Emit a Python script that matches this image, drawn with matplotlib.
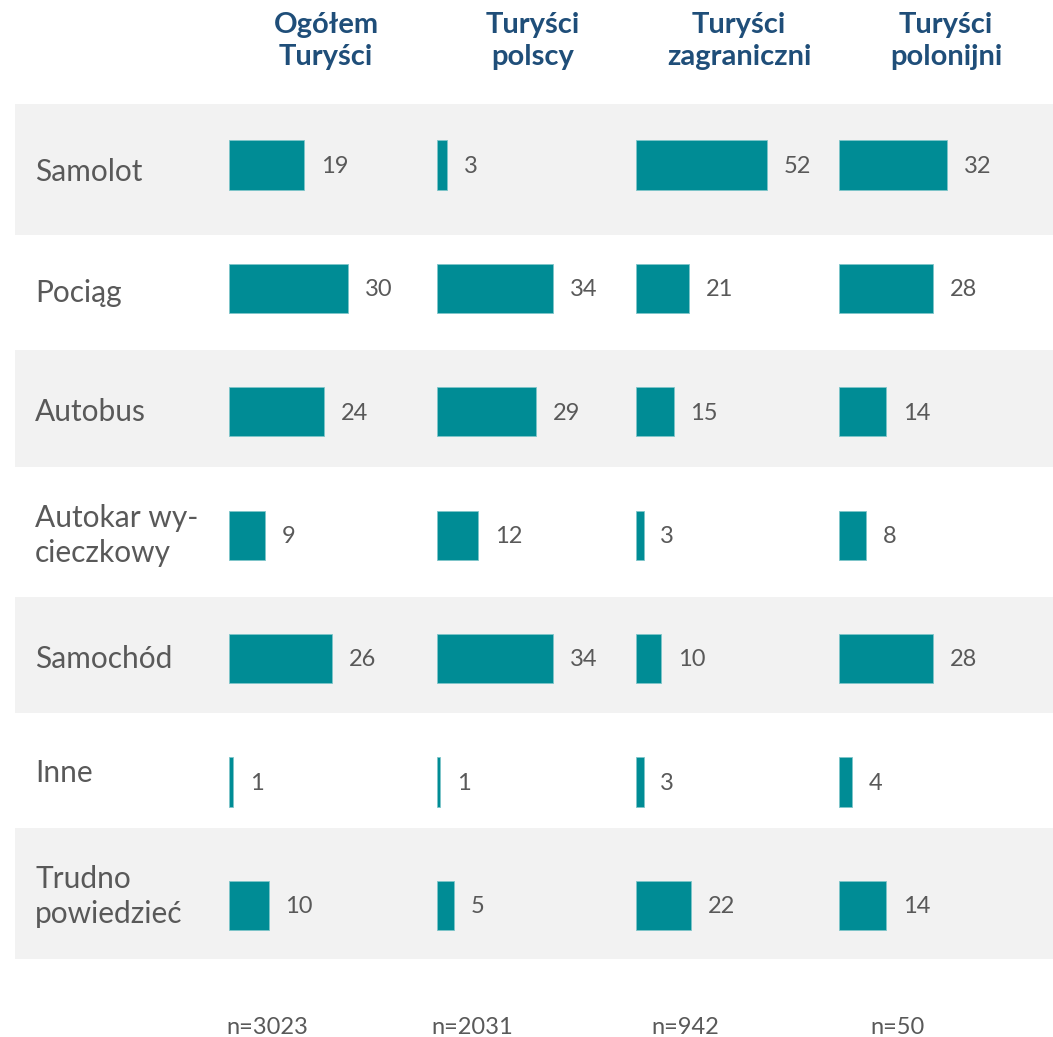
import matplotlib.pyplot as plt

# Dane
categories = ['Samolot', 'Pociąg', 'Autobus', 'Autokar wy-\ncieczkowy',
              'Samochód', 'Inne', 'Trudno\npowiedzieć']
groups = ['Ogółem\nTuryści', 'Turyści\npolscy', 'Turyści\nzagraniczni', 'Turyści\npolonijni']
sample_sizes = ['n=3023', 'n=2031', 'n=942', 'n=50']

ogolem = [19, 30, 24, 9, 26, 1, 10]
polscy = [3, 34, 29, 12, 34, 1, 5]
zagraniczni = [52, 21, 15, 3, 10, 3, 22]
polonijni = [32, 28, 14, 8, 28, 4, 14]
series = [ogolem, polscy, zagraniczni, polonijni]

plt.rcParams['font.family'] = ['Lato', 'DejaVu Sans']

W, H = 1053, 1037
fig = plt.figure(figsize=(W / 100, H / 100), dpi=100)

bar_color = '#008C95'
text_color = '#595959'
head_color = '#1F4E79'

# wiersze: srodek pierwszego 165 px, odstep 123.4 px
row0, step = 165, 123.4
n = len(categories)
top_px = row0 - step / 2
bot_px = row0 + step * (n - 0.5)
ax_bottom = 1 - bot_px / H
ax_height = (bot_px - top_px) / H


def px2row(px):
    return (px - row0) / step


# tlo z pasami (granice pasow w px)
bands = [(104, 235), (350, 467), (597, 713), (828, 959)]
bg = fig.add_axes([15 / W, ax_bottom, 1 - 15 / W, ax_height])
bg.set_ylim(n - 0.5, -0.5)
bg.set_xlim(0, 1)
for a, b in bands:
    bg.axhspan(px2row(a), px2row(b), color='#F2F2F2', lw=0)
label_dy = [7, 5, 0, 0, 0, -9, -9]
for i, cat in enumerate(categories):
    bg.text(20 / (W - 15), i + label_dy[i] / step, cat, ha='left', va='center',
            fontsize=21.5, color=text_color, linespacing=1.3)
bg.axis('off')

# kolumny: poczatek w px, skala px na jednostke
col_left = [229, 437, 636, 839]
px_per_unit = [3.96, 3.41, 2.52, 3.37]
col_width = 190
head_x = [326, 533, 739, 946]
n_x = [267, 472, 685, 897]

for k, vals in enumerate(series):
    ax = fig.add_axes([col_left[k] / W, ax_bottom, col_width / W, ax_height])
    ax.barh(range(n), vals, height=0.40, color=bar_color, edgecolor='#7FC6CA', lw=0.6)
    ax.set_ylim(n - 0.5, -0.5)
    ax.set_xlim(0, col_width / px_per_unit[k])
    for i, v in enumerate(vals):
        ax.annotate(str(v), (v, i), xytext=(12, -1), textcoords='offset points',
                    ha='left', va='center', fontsize=17, color=text_color)
    ax.axis('off')
    ax.patch.set_alpha(0)

    fig.text(head_x[k] / W, 1 - 41 / H, groups[k], ha='center', va='center',
             fontsize=21, fontweight='bold', color=head_color, linespacing=1.3)
    fig.text(n_x[k] / W, 1 - 1027 / H, sample_sizes[k], ha='center', va='center',
             fontsize=17, color=text_color)

fig.savefig('out.png', dpi=100)
